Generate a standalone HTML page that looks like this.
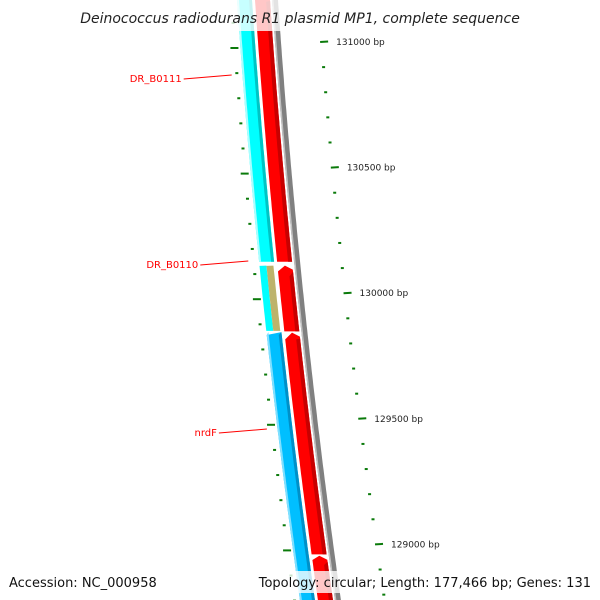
<!DOCTYPE html>
<html><head><meta charset="utf-8"><style>
html,body{margin:0;padding:0;background:#fff}
svg{display:block}
text{font-family:"DejaVu Sans","Liberation Sans",sans-serif}
</style></head><body>
<svg id="c" width="600" height="600" viewBox="0 0 600 600" xmlns="http://www.w3.org/2000/svg">
<g id="bands"></g>
<g id="ticks"></g>
<g id="labels"></g>
<rect x="0" y="0" width="600" height="31" fill="#fff" fill-opacity="0.78"/>
<text x="300" y="23" text-anchor="middle" font-size="14" font-style="italic" fill="#222">Deinococcus radiodurans R1 plasmid MP1, complete sequence</text>
<rect x="280" y="571" width="320" height="22" fill="#fff" fill-opacity="0.78"/>
<text x="9" y="587" font-size="13" fill="#111">Accession: NC_000958</text>
<text x="591" y="587" text-anchor="end" font-size="13" fill="#111">Topology: circular; Length: 177,466 bp; Genes: 131</text>
</svg>
<script>
// data
const majorTicks=[131000,130500,130000,129500,129000];
const minorStep=100;
const tickRange=[128800,131200];
const geneNames=["DR_B0111","DR_B0110","nrdF"];
const geneStarts=[130125,129850,128700];
const geneEnds=[131300,130110,129845];
const geneColors=["#00ffff","#bdb36b","#00bfff"];
const revStarts=[130125,129848,128960,128600];
const revEnds=[131300,130110,129843,128955];
const labelY=[78,264,432];

const NS="http://www.w3.org/2000/svg";
function bpY(bp){return 42+(131000-bp)*0.2512;}
function off(y){return 0.0683*y+6.1e-5*y*y;}
function band(x0,w,y1,y2,fill,tip,g,name){
  const pts=[];
  const t=tip?4:0;
  for(let y=y2;y>=y1+t;y-=5)pts.push([x0+off(y),y]);
  if(tip)pts.push([x0+w/2+off(y1),y1]);
  for(let y=y1+t;y<=y2;y+=5)pts.push([x0+w+off(y),y]);
  pts.push([x0+w+off(y2),y2]);
  const p=document.createElementNS(NS,'polygon');
  p.setAttribute('points',pts.map(q=>q[0].toFixed(1)+','+q[1].toFixed(1)).join(' '));
  p.setAttribute('fill',fill);
  
  
  g.appendChild(p);
}
const gb=document.getElementById('bands');
// forward genes
for(let i=0;i<geneNames.length;i++){
  const y1=Math.max(-5,bpY(geneEnds[i])),y2=Math.min(605,bpY(geneStarts[i]));
  if(i===1){
    band(237,7,y1,y2,"#00ffff",false,gb,'gene-overlap-cyan');
    band(244,7,y1,y2,geneColors[i],false,gb,'gene-'+geneNames[i]);
  }else{
    band(237,15,y1,y2,geneColors[i],false,gb,'gene-'+geneNames[i]);
    band(249,3,y1,y2,i===0?"#00c4c4":"#0090c8",false,gb,'gene-edge');
    band(237,2,y1,y2,i===0?"#aaffff":"#80e0ff",false,gb,'gene-highlight');
  }
}
// reverse genes
for(let i=0;i<revStarts.length;i++){
  const y1=Math.max(-5,bpY(revEnds[i])),y2=Math.min(605,bpY(revStarts[i]));
  const tip=i>0;
  band(255,15,y1,y2,"#ff0000",tip,gb,'reverse-gene-'+i);
  band(266,4,y1+6,y2,"#c80000",false,gb,'reverse-gene-edge');
}
// backbone
band(272,6,-5,605,"#808080",false,gb,'backbone');
band(272,1.5,-5,605,"#c0c0c0",false,gb,'backbone-highlight');
// ticks
const gt=document.getElementById('ticks');
for(let bp=tickRange[1];bp>=tickRange[0];bp-=minorStep){
  const major=majorTicks.includes(bp);
  const yr=bpY(bp), yl=yr+6;
  const lr=document.createElementNS(NS,'line');
  const xr=317+off(yr)*1.05;
  lr.setAttribute('x1',xr);lr.setAttribute('x2',xr+(major?8:3));
  lr.setAttribute('y1',yr);lr.setAttribute('y2',yr-(major?0.5:0));
  lr.setAttribute('stroke','#0a7a0a');lr.setAttribute('stroke-width','2');
  
  
  gt.appendChild(lr);
  const ll=document.createElementNS(NS,'line');
  const xl=230+off(yl);
  ll.setAttribute('x1',major?xl-3:xl);ll.setAttribute('x2',major?xl+5:xl+3);
  ll.setAttribute('y1',yl);ll.setAttribute('y2',yl);
  ll.setAttribute('stroke','#0a7a0a');ll.setAttribute('stroke-width','2');
  
  
  gt.appendChild(ll);
  if(major){
    const t=document.createElementNS(NS,'text');
    t.setAttribute('x',xr+16);t.setAttribute('y',yr+3);
    t.setAttribute('font-size','9');t.setAttribute('fill','#222');
    
    
    t.textContent=bp+' bp';
    gt.appendChild(t);
  }
}
// gene labels
const gl=document.getElementById('labels');
for(let i=0;i<geneNames.length;i++){
  const y=labelY[i];
  const xe=226+off(y);
  const t=document.createElementNS(NS,'text');
  t.setAttribute('x',xe-50);t.setAttribute('y',y+4);
  t.setAttribute('text-anchor','end');
  t.setAttribute('font-size','10');t.setAttribute('fill','#ff0000');
  t.setAttribute('font-family','"DejaVu Sans Mono","Liberation Mono",monospace');
  
  
  t.textContent=geneNames[i];
  gl.appendChild(t);
  const l=document.createElementNS(NS,'line');
  l.setAttribute('x1',xe-48);l.setAttribute('y1',y+1);
  l.setAttribute('x2',xe);l.setAttribute('y2',y-3);
  l.setAttribute('stroke','#ff0000');l.setAttribute('stroke-width','1');
  
  
  gl.appendChild(l);
}
</script>
</body></html>
